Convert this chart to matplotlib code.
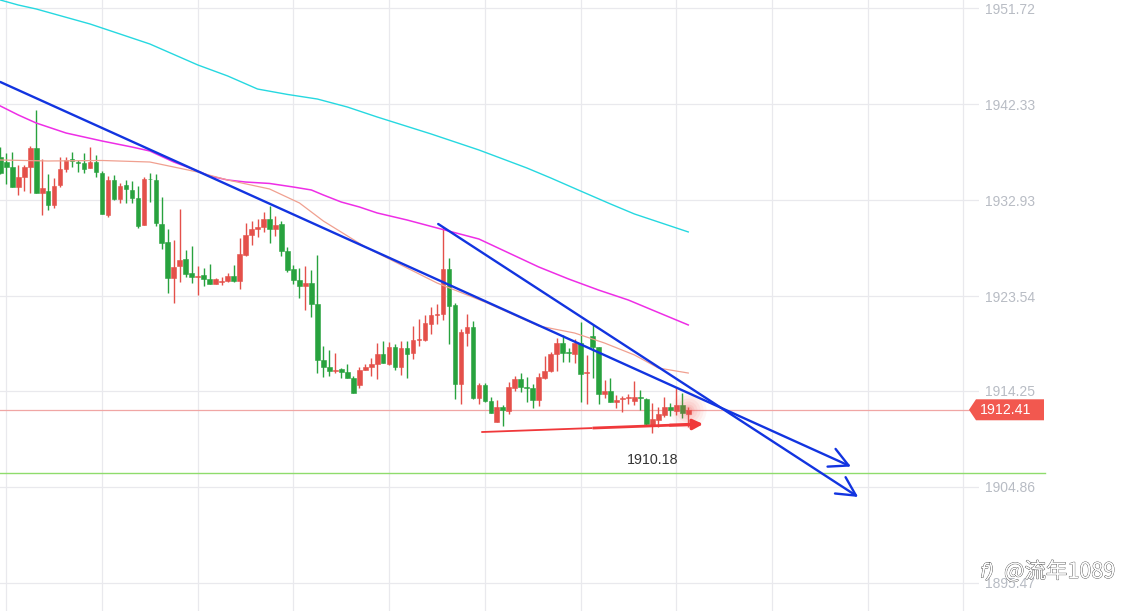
import matplotlib
matplotlib.use("Agg")
import matplotlib.pyplot as plt
import matplotlib.patheffects as pe
from matplotlib.patches import Polygon
from matplotlib.transforms import IdentityTransform

opens = [1937.21,1936.65,1936.16,1934.27,1935.25,1936.23,1938.06,1933.68,1933.81,1932.48,
 1934.47,1936.00,1936.95,1936.69,1936.56,1936.13,1936.72,1935.58,1931.50,1934.92,
 1933.10,1934.43,1933.94,1933.16,1930.55,1935.02,1934.92,1930.61,1928.85,1925.36,
 1926.47,1927.19,1925.78,1925.46,1925.59,1925.19,1924.77,1924.97,1925.06,1925.49,
 1925.06,1927.61,1929.54,1930.12,1930.29,1931.07,1930.16,1930.61,1927.94,1926.17,
 1925.12,1924.57,1924.83,1922.77,1917.29,1916.60,1916.21,1916.41,1916.11,1915.52,
 1914.87,1916.31,1916.60,1916.93,1917.87,1916.93,1918.56,1916.60,1918.46,1918.00,
 1919.28,1919.25,1920.85,1921.69,1921.83,1926.17,1922.67,1914.97,1919.96,1920.52,
 1913.60,1914.81,1913.24,1911.25,1912.69,1912.33,1914.58,1915.43,1914.65,1914.55,
 1913.37,1915.53,1916.21,1917.88,1918.96,1918.04,1917.91,1918.96,1916.05,1919.64,
 1918.57,1913.96,1914.26,1913.21,1913.47,1913.54,1913.28,1913.64,1913.47,1910.93,
 1911.41,1911.91,1912.69,1912.33,1912.85,1912.00]
closes = [1935.58,1936.23,1934.27,1935.19,1936.16,1938.06,1933.68,1934.11,1932.51,1934.30,
 1935.97,1936.85,1936.75,1936.62,1936.00,1936.69,1935.74,1931.63,1934.92,1933.10,
 1934.30,1934.07,1933.19,1930.42,1935.02,1934.99,1930.74,1928.79,1925.36,1926.37,
 1927.06,1925.72,1925.46,1925.52,1925.26,1924.77,1925.19,1925.03,1925.49,1925.06,
 1927.67,1929.50,1930.09,1930.29,1931.07,1930.09,1930.52,1928.00,1926.14,1925.13,
 1924.54,1924.83,1922.80,1917.32,1916.63,1916.21,1916.31,1916.14,1915.56,1914.09,
 1916.31,1916.60,1916.89,1917.87,1916.99,1918.56,1916.63,1918.46,1917.87,1919.25,
 1919.34,1920.91,1921.69,1921.79,1926.17,1922.61,1914.97,1920.03,1920.52,1913.60,
 1914.81,1913.27,1912.13,1912.65,1912.36,1914.61,1915.43,1914.65,1914.58,1913.37,
 1915.59,1916.21,1917.88,1918.96,1918.01,1917.95,1918.96,1915.92,1916.12,1918.60,
 1913.99,1914.26,1913.15,1913.37,1913.54,1913.64,1913.67,1913.60,1911.02,1911.51,
 1911.97,1912.66,1912.36,1912.85,1912.07,1912.41]
highs = [1938.19,1937.54,1937.70,1936.39,1936.39,1938.25,1941.78,1937.01,1935.51,1935.12,
 1937.14,1937.14,1937.67,1936.88,1937.54,1938.19,1937.37,1935.84,1935.32,1935.41,
 1934.60,1934.92,1934.83,1934.34,1935.19,1935.64,1935.51,1933.23,1930.09,1929.05,
 1932.12,1928.07,1928.46,1926.50,1926.27,1926.70,1925.36,1925.46,1925.78,1926.60,
 1929.21,1930.74,1930.94,1931.10,1931.82,1932.38,1931.40,1930.87,1928.33,1926.63,
 1926.27,1926.49,1926.10,1927.57,1918.66,1918.27,1917.94,1916.47,1916.86,1915.72,
 1916.57,1916.86,1917.45,1918.98,1919.15,1919.08,1918.82,1919.15,1919.15,1920.62,
 1921.34,1921.69,1922.45,1922.77,1930.28,1927.31,1922.84,1920.29,1921.79,1921.11,
 1915.07,1915.07,1913.70,1913.37,1912.85,1915.10,1915.73,1915.99,1915.66,1914.94,
 1915.99,1917.68,1918.11,1919.41,1919.74,1918.43,1919.35,1921.05,1917.78,1920.72,
 1918.60,1915.33,1915.50,1913.86,1913.77,1913.96,1915.24,1914.35,1913.54,1913.05,
 1912.72,1913.64,1913.05,1914.61,1914.03,1912.72]
lows = [1935.51,1934.53,1934.21,1933.45,1933.88,1933.68,1933.68,1931.53,1931.99,1932.15,
 1934.21,1935.74,1936.23,1935.74,1935.64,1936.07,1935.25,1931.59,1931.27,1932.96,
 1932.70,1932.70,1932.64,1930.25,1930.52,1932.80,1930.42,1928.13,1923.89,1922.84,
 1924.93,1925.39,1924.80,1923.66,1924.54,1924.70,1924.70,1924.64,1924.97,1924.97,
 1924.28,1927.48,1928.56,1929.37,1929.86,1928.72,1929.44,1927.48,1925.95,1924.70,
 1923.33,1922.18,1921.53,1915.98,1915.65,1915.72,1916.05,1915.49,1915.49,1914.02,
 1914.58,1916.31,1915.72,1915.46,1916.96,1916.83,1916.31,1915.82,1915.56,1917.42,
 1918.66,1919.18,1919.83,1920.81,1921.20,1918.85,1913.50,1912.98,1918.66,1913.50,
 1912.94,1913.21,1912.06,1911.25,1910.86,1911.97,1914.26,1914.19,1913.21,1912.62,
 1912.79,1915.43,1916.10,1916.25,1917.13,1917.13,1916.97,1913.21,1912.98,1915.50,
 1912.98,1913.60,1913.15,1912.62,1912.23,1912.98,1912.88,1912.39,1910.93,1910.17,
 1910.76,1911.68,1911.81,1911.91,1911.58,1910.70]

cyan_idx = [0,3,6,15,20,25,33,38,43,48,53,58,63,72,80,88,92,97,102,106,115]
cyan_val = [1952.55,1952.06,1951.67,1950.20,1949.22,1948.24,1946.19,1945.11,1943.83,1943.30,
            1942.85,1942.07,1941.09,1939.43,1937.86,1936.10,1935.12,1933.84,1932.57,1931.59,1929.83]
magenta_idx = [0,3,6,11,14,17,22,25,29,33,35,38,41,45,49,52,54,57,60,63,68,73,80,85,90,95,100,105,109,115]
magenta_val = [1942.17,1941.29,1940.50,1939.52,1939.13,1938.74,1938.15,1937.76,1936.68,1935.80,
               1935.31,1934.92,1934.72,1934.58,1934.23,1933.94,1933.45,1932.76,1932.28,1931.69,
               1931.00,1930.22,1929.14,1927.77,1926.40,1925.22,1924.14,1923.16,1922.18,1920.72]
salmon_idx = [0,8,17,25,33,38,45,50,54,61,73,81,90,96,101,106,110,115]
salmon_val = [1936.88,1936.78,1936.83,1936.68,1935.70,1934.92,1934.04,1932.67,1930.90,
              1928.36,1924.83,1922.97,1920.62,1919.93,1918.95,1917.78,1916.50,1916.01]

y_levels = [1951.72,1942.33,1932.93,1923.54,1914.25,1904.86,1895.47]
y_labels = ["1951.72","1942.33","1932.93","1923.54","1914.25","1904.86","1895.47"]
x_grid = list(range(1, 162, 16))
last_price = 1912.41
support_price = 1906.17
low_label = "1910.18"

trend_a = [(0, 1944.52), (142.2, 1906.85)]
trend_b = [(73.2, 1930.61), (143.4, 1903.87)]
red_tail = [(80.4, 1910.23), (99.0, 1910.62)]
red_mid = [(99.0, 1910.62), (112.0, 1910.90)]
red_arrow = [(112.0, 1910.90), (117.5, 1911.01)]

W, H, DPI = 1127, 611, 100
SANS = "Liberation Sans"
RED, GREEN, BLUE = "#e4504a", "#28a23e", "#1234e0"

fig = plt.figure(figsize=(W/DPI, H/DPI), dpi=DPI, facecolor="white")
ax = fig.add_axes([0, 0, 979/W, 1])
ax.set_xlim(-0.05, 163.6)
ax.set_ylim(1892.70, 1952.55)
for s in ax.spines.values():
    s.set_visible(False)

ax.set_axisbelow(True)
ax.set_xticks(x_grid)
ax.set_yticks(y_levels)
ax.set_yticklabels(y_labels, family=SANS, fontsize=10, color="#b8bcc4")
ax.yaxis.tick_right()
ax.tick_params(axis="y", length=0, pad=4.3)
ax.tick_params(axis="x", length=0, labelbottom=False)
ax.grid(True, color="#e9e9ed", lw=0.9)

n = len(opens)
xs = list(range(n))
ax.axhline(last_price, color="#f0a6a4", lw=0.9, zorder=1.5, xmax=969/979)
ax.plot([0, 174.6], [support_price]*2, color="#8fdc6c", lw=1, clip_on=False, zorder=1.5)

colors = [RED if c >= o else GREEN for o, c in zip(opens, closes)]
ax.vlines(xs, lows, highs, colors=colors, lw=1, zorder=3)
ax.bar(xs, [abs(c-o) for o, c in zip(opens, closes)],
       bottom=[min(o, c) for o, c in zip(opens, closes)],
       width=0.78, color=colors, edgecolor=colors, lw=0.4, zorder=3.2)

ax.plot(cyan_idx, cyan_val, color="#26d8e0", lw=1.0, zorder=4)
ax.plot(magenta_idx, magenta_val, color="#ee2ee6", lw=1.1, zorder=4)
ax.plot(salmon_idx, salmon_val, color="#f0a090", lw=0.9, zorder=4)

for r, a in zip([18, 15, 12, 9, 6, 4], [0.05, 0.06, 0.07, 0.08, 0.10, 0.12]):
    ax.scatter([n-1], [last_price], s=(r*2*0.72)**2, color="#f0504a", alpha=a, lw=0, zorder=3.5)

for seg in (trend_a, trend_b):
    ax.annotate("", xy=seg[1], xytext=seg[0], annotation_clip=False, zorder=5,
                arrowprops=dict(arrowstyle="->,head_length=1.35,head_width=0.7", mutation_scale=10,
                                color=BLUE, lw=1.7, shrinkA=0, shrinkB=0))

ax.plot(*zip(*red_tail), color="#f0383a", lw=1.3, solid_capstyle="butt", zorder=5)
ax.plot(*zip(*red_mid), color="#f0383a", lw=2.0, solid_capstyle="butt", zorder=5)
ax.annotate("", xy=red_arrow[1], xytext=red_arrow[0], zorder=5,
            arrowprops=dict(arrowstyle="-|>,head_length=0.6,head_width=0.3", mutation_scale=10,
                            color="#f0383a", lw=2.4, shrinkA=0, shrinkB=0))

ax.text(109.1, 1907.5, low_label, family=SANS, fontsize=10.3, color="#333333",
        ha="center", va="center", zorder=6)

fig.canvas.draw()
_, py = ax.transData.transform((0, last_price))
tag = Polygon([(969, py), (976, py+10.5), (1044, py+10.5), (1044, py-10.5), (976, py-10.5)],
              closed=True, fc="#f2584f", ec="none", transform=IdentityTransform(), clip_on=False)
fig.add_artist(tag)
fig.text(1006/W, py/H, "1912.41", family=SANS, fontsize=10.2, color="white", ha="center", va="center")

halo = [pe.withStroke(linewidth=0.55, foreground="#444444")]
fig.text(1004/W, 1-572/H, "@流年1089", family=["Noto Sans CJK SC", "DejaVu Sans"], fontsize=15.5,
         color="white", ha="left", va="center", path_effects=halo, zorder=10)
fig.text(980/W, 1-572/H, "f)", family="DejaVu Sans", style="italic", fontsize=14, color="white",
         ha="left", va="center", path_effects=halo, zorder=10)

fig.savefig("out.png", dpi=DPI, facecolor="white")
